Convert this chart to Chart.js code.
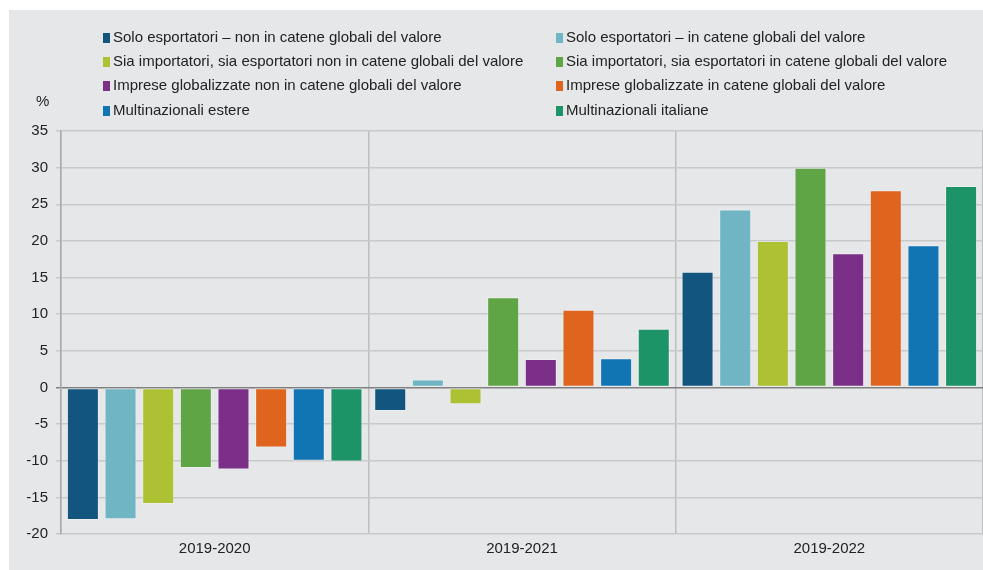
<!DOCTYPE html>
<html>
<head>
<meta charset="utf-8">
<script src="https://cdn.jsdelivr.net/npm/chart.js@4/dist/chart.umd.min.js"></script>
<style>
  body { margin: 0; background: #fff; font-family: "Liberation Sans", Arial, sans-serif; }
  #wrap { position: absolute; left: 9px; top: 10px; width: 974px; height: 560px; background: #e6e7e9; }
  #chart { position: absolute; left: 0; top: 0; }
  .leg { position: absolute; font-size: 15px; color: #222; white-space: nowrap; line-height: 16px; }
  .leg i { display: inline-block; width: 7px; height: 10px; margin-right: 3px; vertical-align: -1px; }
  #unit { position: absolute; left: 27px; top: 82px; font-size: 15px; color: #222; }
</style>
</head>
<body>
<div id="wrap">
  <canvas id="chart" width="974" height="560"></canvas>
  <div id="legend"></div>
  <div id="unit">%</div>
</div>
<script>
const periods = ["2019-2020", "2019-2021", "2019-2022"];

const series_names = [
  "Solo esportatori \u2013 non in catene globali del valore",
  "Solo esportatori \u2013 in catene globali del valore",
  "Sia importatori, sia esportatori non in catene globali del valore",
  "Sia importatori, sia esportatori in catene globali del valore",
  "Imprese globalizzate non in catene globali del valore",
  "Imprese globalizzate in catene globali del valore",
  "Multinazionali estere",
  "Multinazionali italiane"
];

const colors = ["#12557f", "#6fb5c4", "#aec132", "#60a545", "#7b2f88", "#df651f", "#1174b3", "#1c9467"];

// one array per series: 2019-2020, 2019-2021, 2019-2022
const solo_exp_non_cgv = [-18.1, -3.2, 15.8];
const solo_exp_cgv     = [-18.0, 1.1, 24.3];
const imp_exp_non_cgv  = [-15.9, -2.3, 20.0];
const imp_exp_cgv      = [-11.0, 12.3, 30.0];
const glob_non_cgv     = [-11.2, 3.9, 18.3];
const glob_cgv         = [-8.2, 10.6, 26.9];
const mult_estere      = [-10.0, 4.0, 19.4];
const mult_italiane    = [-10.1, 8.0, 27.5];

const y_ticks = [-20, -15, -10, -5, 0, 5, 10, 15, 20, 25, 30, 35];

const all_values = [solo_exp_non_cgv, solo_exp_cgv, imp_exp_non_cgv, imp_exp_cgv,
                    glob_non_cgv, glob_cgv, mult_estere, mult_italiane];

// html legend, 2 columns
const legend = document.getElementById("legend");
const rowTops = [19, 43, 67, 92];
for (let i = 0; i < series_names.length; i++) {
  const d = document.createElement("div");
  d.className = "leg";
  d.style.top = rowTops[Math.floor(i / 2)] + "px";
  d.style.left = (i % 2 === 0 ? 94 : 547) + "px";
  d.innerHTML = '<i style="background:' + colors[i] + '"></i>' + series_names[i];
  legend.appendChild(d);
}

const datasets = all_values.map((vals, i) => ({
  label: series_names[i],
  data: vals,
  backgroundColor: colors[i],
  borderColor: "rgba(255,255,255,0.3)",
  borderWidth: 1,
  borderSkipped: false,
  categoryPercentage: 0.98,
  barPercentage: 0.85
}));

new Chart(document.getElementById("chart"), {
  type: "bar",
  data: { labels: periods, datasets: datasets },
  options: {
    responsive: false,
    animation: false,
    layout: { padding: { top: 121, right: 0, left: 0, bottom: 0 } },
    plugins: { legend: { display: false }, tooltip: { enabled: false } },
    scales: {
      x: {
        grid: { offset: true, color: "#bdbec0", lineWidth: 1.5, drawTicks: false },
        border: { display: false },
        ticks: { color: "#222", font: { family: "Liberation Sans", size: 15 }, padding: 6 },
        afterFit: (s) => { s.height = 36; }
      },
      y: {
        min: -20,
        max: 35,
        afterBuildTicks: (s) => { s.ticks = y_ticks.map(v => ({ value: v })); },
        grid: {
          color: (c) => c.tick && c.tick.value === 0 ? "#808080" : "#c8c9cb",
          lineWidth: 1.5,
          tickLength: 5
        },
        border: { color: "#a8a9ab", width: 1.5 },
        ticks: { color: "#222", font: { family: "Liberation Sans", size: 15 }, padding: 8 },
        afterFit: (s) => { s.width = 52; }
      }
    }
  }
});
</script>
</body>
</html>
